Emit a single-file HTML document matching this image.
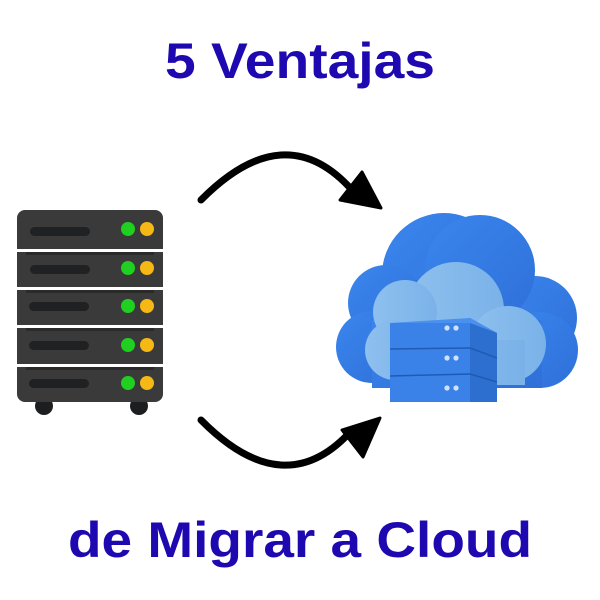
<!DOCTYPE html>
<html><head><style>html,body{margin:0;padding:0;background:#fff;width:600px;height:600px;overflow:hidden}</style></head>
<body>
<svg width="600" height="600" viewBox="0 0 600 600" xmlns="http://www.w3.org/2000/svg">
<defs>
<linearGradient id="c1" x1="0" y1="0" x2="1" y2="1"><stop offset="0" stop-color="#3a86ee"/><stop offset="1" stop-color="#2f6fd8"/></linearGradient>
<linearGradient id="c2" x1="0" y1="0" x2="1" y2="0"><stop offset="0" stop-color="#8ec0ef"/><stop offset="1" stop-color="#7ab2e8"/></linearGradient>
</defs>
<text x="300" y="78" text-anchor="middle" font-family="Liberation Sans, sans-serif" font-weight="bold" font-size="50" fill="#1e08b0" textLength="270" lengthAdjust="spacingAndGlyphs">5 Ventajas</text>
<text x="300" y="557" text-anchor="middle" font-family="Liberation Sans, sans-serif" font-weight="bold" font-size="50" fill="#1e08b0" textLength="464" lengthAdjust="spacingAndGlyphs">de Migrar a Cloud</text>

<!-- server rack -->
<g>
<circle cx="44" cy="406" r="9" fill="#1c1e20"/><circle cx="139" cy="406" r="9" fill="#1c1e20"/>
<rect x="17" y="210" width="146" height="192" rx="8" fill="#3a3a3a"/>
<g fill="#fff"><rect x="17" y="249" width="146" height="3"/><rect x="17" y="287" width="146" height="3"/><rect x="17" y="325" width="146" height="3"/><rect x="17" y="364" width="146" height="3"/></g>
<g fill="#2a2a2a"><rect x="26" y="252" width="128" height="3"/><rect x="26" y="290" width="128" height="3"/><rect x="26" y="328" width="128" height="3"/><rect x="26" y="367" width="128" height="3"/></g>
<g fill="#1f2123">
<rect x="30" y="227" width="60" height="9" rx="4.5"/><rect x="30" y="265" width="60" height="9" rx="4.5"/><rect x="29" y="302" width="60" height="9" rx="4.5"/><rect x="29" y="341" width="60" height="9" rx="4.5"/><rect x="29" y="379" width="60" height="9" rx="4.5"/></g>
<g fill="#20d020"><circle cx="128" cy="229" r="7"/><circle cx="128" cy="268" r="7"/><circle cx="128" cy="306" r="7"/><circle cx="128" cy="345" r="7"/><circle cx="128" cy="383" r="7"/></g>
<g fill="#f5b814"><circle cx="147" cy="229" r="7"/><circle cx="147" cy="268" r="7"/><circle cx="147" cy="306" r="7"/><circle cx="147" cy="345" r="7"/><circle cx="147" cy="383" r="7"/></g>
</g>

<!-- arrows -->
<path d="M201,200 Q285,115 352,190" fill="none" stroke="#000" stroke-width="7" stroke-linecap="round"/>
<path d="M340,200 L362,172 L381,208 Z" fill="#000" stroke="#000" stroke-width="3" stroke-linejoin="round"/>
<path d="M201,420 Q285,505 352,430" fill="none" stroke="#000" stroke-width="7" stroke-linecap="round"/>
<path d="M342,430 L380,418 L363,457 Z" fill="#000" stroke="#000" stroke-width="3" stroke-linejoin="round"/>

<!-- cloud -->
<g fill="url(#c1)">
<circle cx="444" cy="275" r="62"/>
<circle cx="386" cy="303" r="38"/>
<circle cx="372" cy="347" r="36"/>
<circle cx="535" cy="318" r="42"/>
<circle cx="540" cy="350" r="38"/>
<circle cx="480" cy="270" r="55"/>
<rect x="372" y="320" width="170" height="68"/>
</g>
<g fill="url(#c2)">
<circle cx="456" cy="310" r="48"/>
<circle cx="405" cy="312" r="32"/>
<circle cx="395" cy="350" r="30"/>
<circle cx="508" cy="344" r="38"/>
<rect x="395" y="340" width="130" height="45"/>
</g>
<!-- cloud server -->
<g>
<polygon points="470,318 497,333 497,402 470,402" fill="#2d6fcf"/>
<rect x="390" y="323" width="80" height="79" fill="#3b82e8"/>
<polygon points="390,323 470,318 497,333 470,323" fill="#4a90ef"/>
<g stroke="#1f5bb5" stroke-width="1.5"><line x1="390" y1="349" x2="470" y2="348"/><line x1="470" y1="348" x2="497" y2="358"/><line x1="390" y1="376" x2="470" y2="374"/><line x1="470" y1="374" x2="497" y2="382"/></g>
<g fill="#cfe2fb"><circle cx="447" cy="328" r="2.6"/><circle cx="456" cy="328" r="2.6"/><circle cx="447" cy="358" r="2.6"/><circle cx="456" cy="358" r="2.6"/><circle cx="447" cy="388" r="2.6"/><circle cx="456" cy="388" r="2.6"/></g>
</g>
</svg>
</body></html>
